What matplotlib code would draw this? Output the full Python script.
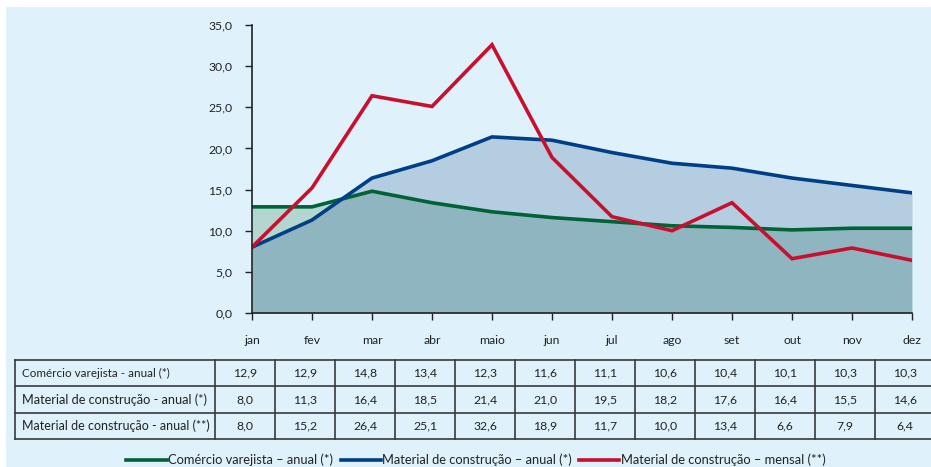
import matplotlib
matplotlib.use("Agg")
import matplotlib.pyplot as plt
import numpy as np
from matplotlib.patches import Rectangle
from matplotlib.lines import Line2D

months = ["jan", "fev", "mar", "abr", "maio", "jun", "jul", "ago", "set", "out", "nov", "dez"]
comercio_anual = [12.9, 12.9, 14.8, 13.4, 12.3, 11.6, 11.1, 10.6, 10.4, 10.1, 10.3, 10.3]
material_anual = [8.0, 11.3, 16.4, 18.5, 21.4, 21.0, 19.5, 18.2, 17.6, 16.4, 15.5, 14.6]
material_mensal = [8.0, 15.2, 26.4, 25.1, 32.6, 18.9, 11.7, 10.0, 13.4, 6.6, 7.9, 6.4]
row_labels = ["Comércio varejista - anual (*)", "Material de construção - anual (*)",
              "Material de construção - anual (**)"]
legend_labels = ["Comércio varejista – anual (*)", "Material de construção – anual (*)",
                 "Material de construção – mensal (**)"]
yticks = [0, 5, 10, 15, 20, 25, 30, 35]

plt.rcParams['font.family'] = ['Lato', 'DejaVu Sans']

W, H = 931, 467
fig = plt.figure(figsize=(W / 100, H / 100), dpi=100)
fig.patch.set_facecolor("white")
fig.patches.append(Rectangle((6 / W, 0), 1 - 6 / W, 1 - 7 / H, transform=fig.transFigure,
                             facecolor="#DFF1FB", edgecolor="none", zorder=-10))

c_green = "#006236"
c_blue = "#003F85"
c_red = "#C8102E"
f_blue = "#B4CDE0"
f_green = "#B4D6D1"
f_dark = "#8FB5C1"

ax = fig.add_axes([252 / W, 1 - 313 / H, (912 - 252) / W, (313 - 25) / H])
ax.set_facecolor("none")
x = np.arange(len(months))
pb = ax.fill_between(x, 0, material_anual, color=f_blue, lw=0, zorder=1)
ax.fill_between(x, 0, comercio_anual, color=f_green, lw=0, zorder=1.5)
pd_ = ax.fill_between(x, 0, comercio_anual, color=f_dark, lw=0, zorder=2)
pd_.set_clip_path(pb.get_paths()[0], ax.transData)

ax.plot(x, comercio_anual, color=c_green, lw=2.6, zorder=3, solid_joinstyle="miter")
ax.plot(x, material_anual, color=c_blue, lw=2.6, zorder=4, solid_joinstyle="miter")
ax.plot(x, material_mensal, color=c_red, lw=2.6, zorder=5, solid_joinstyle="miter")

ax.set_xlim(0, len(months) - 1)
ax.set_ylim(0, 35)
ax.set_yticks(yticks)
ax.set_yticklabels([f"{v:.1f}".replace(".", ",") for v in yticks])
ax.set_xticks(x)
ax.set_xticklabels(months)
for s in ["top", "right"]:
    ax.spines[s].set_visible(False)
for s in ["left", "bottom"]:
    ax.spines[s].set_color("#222222")
    ax.spines[s].set_linewidth(1.2)
    ax.spines[s].set_zorder(6)
ax.tick_params(axis="y", direction="out", length=5, width=1, color="#222222",
               labelsize=8.8, pad=9, labelcolor="#222222")
ax.tick_params(axis="x", direction="out", length=5, width=1, color="#222222",
               labelsize=8.8, pad=10.5, labelcolor="#222222")

# table
tab = fig.add_axes([0, 0, 1, 1])
tab.set_xlim(0, W)
tab.set_ylim(H, 0)
tab.axis("off")
tab.set_facecolor("none")
row_y = [360, 386, 413, 439]
col_x = [15, 215] + [215 + 60 * (i + 1) for i in range(len(months))]
lc = "#3a3a3a"
for yy in row_y:
    tab.plot([15, W], [yy, yy], color=lc, lw=1.2)
for xx in col_x:
    tab.plot([xx, xx], [row_y[0], row_y[-1]], color=lc, lw=1.2)
data_rows = [comercio_anual, material_anual, material_mensal]
label_sizes = [8.4, 9.2, 9.0]
for r, (lab, vals) in enumerate(zip(row_labels, data_rows)):
    yc = (row_y[r] + row_y[r + 1]) / 2
    tab.text(22, yc, lab, ha="left", va="center", fontsize=label_sizes[r], color="#222222")
    for c, v in enumerate(vals):
        xc = (col_x[c + 1] + col_x[c + 2]) / 2
        tab.text(xc, yc, f"{v:.1f}".replace(".", ","), ha="center", va="center",
                 fontsize=8.8, color="#222222")

handles = [Line2D([], [], color=c, lw=2.6) for c in (c_green, c_blue, c_red)]
fig.legend(handles, legend_labels, loc="center", bbox_to_anchor=(476 / W, 1 - 460 / H),
           ncol=3, frameon=False, fontsize=9.3, handlelength=3.1, handletextpad=0.1,
           columnspacing=0.6, labelcolor="#222222", borderpad=0.2)

fig.savefig("out.png", dpi=100, facecolor="white")
